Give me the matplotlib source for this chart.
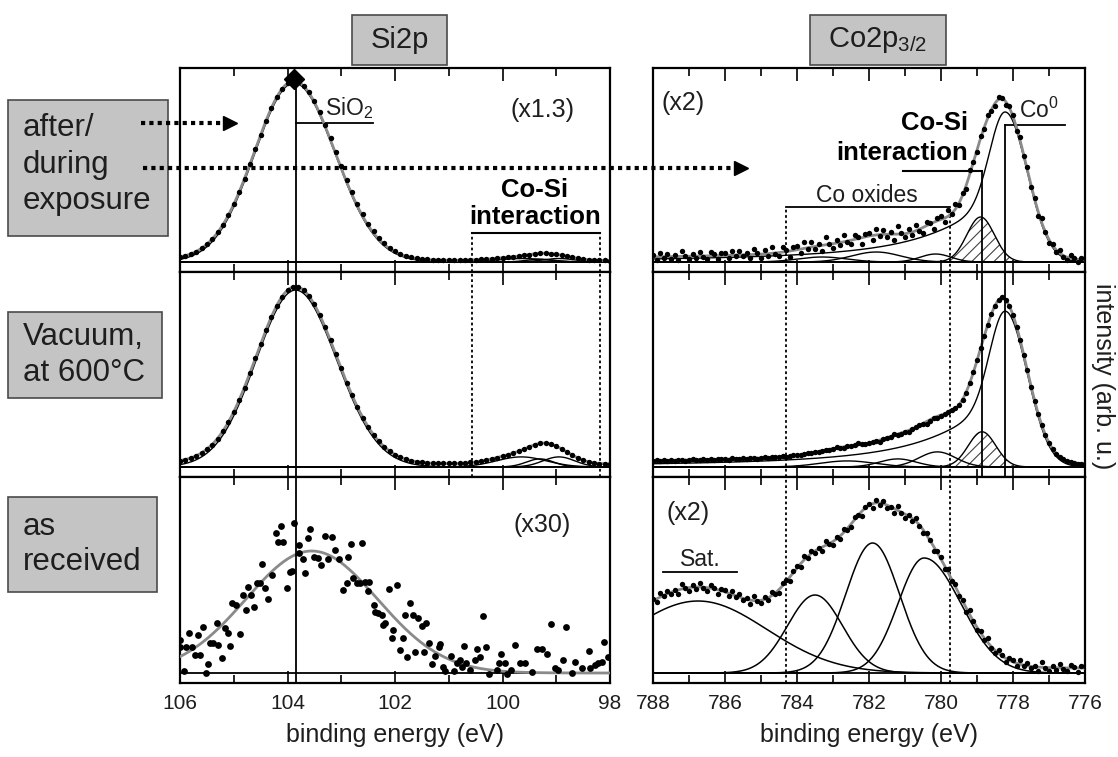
import numpy as np
import matplotlib.pyplot as plt
from matplotlib.patches import Rectangle
from matplotlib.lines import Line2D
from matplotlib.ticker import MultipleLocator, FormatStrFormatter

plt.rcParams['font.family'] = ['Liberation Sans', 'DejaVu Sans']
plt.rcParams['mathtext.default'] = 'regular'
plt.rcParams['hatch.linewidth'] = 0.8

# ---------------- measured spectra (intensity, arb. u.) ----------------
si_energy = np.round(np.arange(106.0, 97.95, -0.1), 1)
co_energy = np.round(np.arange(788.0, 775.95, -0.1), 1)

si_exposure = [5, 6, 8, 10, 14, 18, 23, 30, 37, 47,
               58, 70, 83, 98, 113, 127, 141, 154, 165, 173,
               179, 181, 180, 176, 170, 161, 150, 137, 124, 110,
               96, 82, 70, 58, 48, 38, 31, 24, 19, 14,
               11, 8, 6, 5, 4, 3, 3, 2, 2, 2,
               2, 2, 2, 2, 2, 2, 3, 3, 3, 4,
               4, 5, 5, 6, 7, 7, 8, 9, 9, 8,
               8, 7, 6, 5, 4, 3, 2, 2, 2, 2,
               1]

si_vacuum = [6, 7, 9, 11, 14, 18, 22, 28, 36, 45,
             55, 67, 79, 93, 108, 122, 136, 149, 160, 169,
             176, 179, 179, 176, 170, 162, 151, 139, 126, 112,
             98, 84, 72, 60, 49, 40, 32, 26, 20, 16,
             12, 10, 8, 6, 5, 5, 4, 4, 4, 4,
             4, 4, 4, 4, 5, 5, 6, 7, 8, 9,
             11, 12, 14, 16, 18, 20, 22, 24, 24, 23,
             21, 18, 15, 12, 9, 7, 5, 4, 3, 3,
             3]

si_received_energy = [106.0, 106.0, 105.92, 105.88, 105.83, 105.78, 105.72, 105.67, 105.63, 105.57,
                      105.52, 105.47, 105.44, 105.38, 105.32, 105.29, 105.22, 105.16, 105.11, 105.07,
                      105.03, 104.95, 104.88, 104.82, 104.78, 104.73, 104.68, 104.62, 104.57, 104.51,
                      104.47, 104.42, 104.37, 104.29, 104.22, 104.17, 104.12, 104.08, 104.01, 103.95,
                      103.92, 103.87, 103.79, 103.78, 103.72, 103.67, 103.62, 103.58, 103.50, 103.44,
                      103.38, 103.31, 103.24, 103.18, 103.12, 103.05, 102.96, 102.90, 102.87, 102.82,
                      102.78, 102.71, 102.65, 102.62, 102.56, 102.51, 102.48, 102.40, 102.37, 102.31,
                      102.25, 102.22, 102.19, 102.12, 102.06, 102.03, 101.97, 101.91, 101.86, 101.81,
                      101.78, 101.72, 101.67, 101.63, 101.57, 101.50, 101.46, 101.42, 101.36, 101.32,
                      101.26, 101.19, 101.16, 101.11, 101.07, 100.96, 100.91, 100.85, 100.79, 100.76,
                      100.72, 100.67, 100.60, 100.51, 100.47, 100.42, 100.36, 100.31, 100.25, 100.11,
                      100.06, 100.02, 99.95, 99.92, 99.85, 99.77, 99.67, 99.58, 99.46, 99.36,
                      99.27, 99.18, 99.10, 99.02, 98.96, 98.87, 98.81, 98.71, 98.65, 98.53,
                      98.40, 98.37, 98.28, 98.22, 98.15, 98.11, 98.03]
si_received_counts = [33, 26, 2, 26, 40, 26, 18, 38, 18, 46,
                      0, 9, 30, 30, 50, 28, 15, 45, 40, 27,
                      70, 68, 39, 78, 63, 86, 78, 66, 90, 90,
                      109, 85, 74, 98, 140, 131, 147, 131, 85, 101,
                      102, 150, 128, 120, 114, 100, 135, 144, 116, 115,
                      108, 137, 114, 136, 123, 114, 83, 90, 116, 129,
                      95, 90, 90, 130, 91, 82, 91, 68, 61, 60,
                      58, 48, 50, 84, 35, 43, 88, 23, 35, 58,
                      16, 70, 58, 21, 55, 47, 21, 50, 30, 9,
                      17, 26, 29, 6, 2, 17, 2, 10, 13, 6,
                      27, 10, 3, 13, 24, 16, 57, 26, -1, 3,
                      10, 19, 10, -1, 3, 28, 10, 10, 1, 24,
                      24, 19, 49, 5, 3, 13, 46, 0, 11, 5,
                      22, 5, 8, 10, 11, 31, 16]

co_exposure = [7, 2, 9, 4, 8, 3, 7, 2, 11, 6,
               3, 8, 4, 10, 5, 3, 10, 8, 3, 9,
               9, 4, 11, 6, 11, 6, 9, 4, 13, 9,
               4, 12, 6, 15, 8, 6, 15, 12, 5, 15,
               16, 9, 20, 13, 20, 13, 18, 11, 25, 18,
               14, 22, 17, 27, 20, 18, 27, 25, 18, 28,
               29, 22, 33, 26, 32, 25, 30, 22, 36, 29,
               25, 33, 27, 37, 31, 29, 40, 39, 33, 44,
               46, 40, 52, 48, 58, 57, 69, 73, 92, 100,
               110, 126, 133, 147, 151, 156, 165, 164, 157, 156,
               147, 131, 125, 106, 95, 75, 64, 46, 44, 30,
               19, 18, 10, 12, 5, 2, 7, 4, 0, 4,
               4]

co_vacuum = [6, 7, 6, 7, 6, 7, 6, 7, 7, 6,
             7, 8, 7, 7, 8, 7, 8, 7, 8, 8,
             8, 7, 9, 8, 8, 9, 8, 9, 9, 8,
             9, 10, 9, 10, 10, 10, 11, 10, 11, 12,
             12, 12, 13, 14, 14, 15, 15, 16, 17, 17,
             18, 20, 19, 19, 21, 21, 22, 24, 23, 23,
             24, 25, 26, 25, 28, 29, 30, 33, 32, 33,
             35, 35, 38, 40, 42, 43, 43, 46, 49, 49,
             51, 53, 55, 57, 59, 62, 67, 74, 84, 94,
             106, 118, 130, 141, 152, 160, 166, 169, 166, 160,
             151, 139, 126, 111, 96, 80, 66, 53, 42, 32,
             24, 18, 13, 10, 8, 6, 5, 4, 3, 3,
             3]

co_received = [74, 71, 80, 77, 82, 79, 83, 79, 89, 85,
               82, 88, 84, 90, 85, 82, 88, 85, 79, 84,
               83, 77, 82, 76, 79, 73, 75, 69, 77, 72,
               70, 76, 73, 81, 79, 80, 90, 93, 92, 102,
               107, 106, 117, 115, 122, 120, 125, 122, 132, 129,
               128, 136, 134, 144, 143, 146, 156, 158, 157, 166,
               169, 165, 173, 168, 172, 165, 166, 160, 167, 160,
               155, 158, 152, 155, 147, 140, 140, 133, 122, 122,
               116, 104, 104, 92, 89, 77, 73, 61, 63, 52,
               43, 42, 33, 35, 25, 20, 23, 18, 11, 15,
               13, 7, 13, 7, 10, 5, 7, 2, 11, 5,
               2, 7, 3, 9, 4, 2, 8, 6, 1, 7,
               7]

# ---------------- fit results ----------------
# peaks: (centre eV, height, HWHM on low-BE side, HWHM on high-BE side)
si_exposure_peaks = [(103.88, 179, 0.90, 0.86), (99.65, 3.5, 0.55, 0.55),
                     (99.30, 2.8, 0.30, 0.30), (98.95, 3.5, 0.35, 0.35)]
si_vacuum_peaks = [(103.85, 176, 0.90, 0.86), (99.65, 10, 0.55, 0.55),
                   (99.30, 8, 0.30, 0.30), (98.95, 10, 0.35, 0.35)]
si_received_peaks = [(103.55, 122, 1.44, 1.44)]

# Co0 metal: (centre, height, HWHM low side, core HWHM, tail width)
co_exposure_metal = (778.22, 150, 0.72, 0.50, 1.8)
co_exposure_cosi = (778.90, 45, 0.45, 0.45)
co_exposure_oxides = [(780.15, 8, 0.5, 0.5), (781.8, 10, 0.8, 0.8), (783.3, 5, 0.8, 0.8)]
co_vacuum_metal = (778.22, 155, 0.72, 0.50, 1.8)
co_vacuum_cosi = (778.86, 35, 0.45, 0.45)
co_vacuum_oxides = [(780.1, 15, 0.6, 0.6), (781.2, 8, 0.6, 0.6), (782.6, 6, 0.9, 0.9)]
co_received_peaks = [(786.75, 72, 2.25, 2.25), (783.5, 78, 0.9, 0.9),
                     (781.9, 130, 0.88, 0.88), (780.47, 115, 1.2, 0.85)]

# backgrounds: (low-BE level, high-BE level, step centre, step width)
bg_si_exposure = (1.5, 2.5, 103.9, 0.5)
bg_si_vacuum = (3.0, 4.0, 103.9, 0.5)
bg_si_received = (0.0, 0.0, 103.9, 0.5)
bg_co_exposure = (2.0, 2.0, 780.0, 1.0)
bg_co_vacuum = (3.0, 3.0, 780.0, 1.0)
bg_co_received = (5.0, 14.0, 781.5, 0.8)

row_labels = [['after/', 'during', 'exposure'], ['Vacuum,', 'at 600°C'], ['as', 'received']]


def peak(x, c, h, w_lo, w_hi):
    w = np.where(x < c, w_lo, w_hi)
    return h * np.exp(-np.log(2) * ((x - c) / w) ** 2)


def metal_peak(x, c, h, w_lo, w_core, w_tail):
    # asymmetric line with a slow tail towards higher binding energy
    d = x - c
    low = np.exp(-np.log(2) * (d / w_lo) ** 2)
    high = 0.62 * np.exp(-np.log(2) * (d / w_core) ** 2) + 0.38 * (1 + (d / w_tail) ** 2) ** -0.85
    return h * np.where(d < 0, low, high)


def background(x, lo, hi, x0, s):
    return lo + (hi - lo) * 0.5 * (1 + np.tanh((x - x0) / s))


W, H = 1118.0, 757.0
fig = plt.figure(figsize=(11.18, 7.57), dpi=100)


def px_axes(x0, y0, x1, y1):
    return fig.add_axes([x0 / W, 1 - y1 / H, (x1 - x0) / W, (y1 - y0) / H])


rows = [(68, 272), (272, 477), (477, 683)]
ax_si = [px_axes(180, r0, 610, r1) for r0, r1 in rows]
ax_co = [px_axes(653, r0, 1085, r1) for r0, r1 in rows]

GREY = '#8a8a8a'
TXT = '#1e1e1e'


def style(ax, xlim, ylim, labels):
    ax.set_xlim(*xlim)
    ax.set_ylim(*ylim)
    ax.xaxis.set_major_locator(MultipleLocator(2))
    ax.xaxis.set_minor_locator(MultipleLocator(1))
    ax.xaxis.set_major_formatter(FormatStrFormatter('%d'))
    ax.set_yticks([])
    ax.tick_params(which='both', direction='in', top=True, bottom=True, left=False, right=False,
                   labelbottom=labels, width=1.2, labelsize=15, labelcolor=TXT, pad=8)
    ax.tick_params(which='major', length=9)
    ax.tick_params(which='minor', length=6)
    for sp in ax.spines.values():
        sp.set_linewidth(1.6)
    ax.axhline(0, color='k', lw=1.3, zorder=2)


for i, ax in enumerate(ax_si):
    style(ax, (106, 98), (-10, 194 if i < 2 else 196), i == 2)
for i, ax in enumerate(ax_co):
    style(ax, (788, 776), (-10, 194 if i < 2 else 196), i == 2)

xs = np.linspace(106, 98, 800)
xc = np.linspace(788, 776, 1200)

# ---- Si 2p ----
for ax, peaks, bg, dots in [(ax_si[0], si_exposure_peaks, bg_si_exposure, si_exposure),
                            (ax_si[1], si_vacuum_peaks, bg_si_vacuum, si_vacuum)]:
    comps = [peak(xs, *p) for p in peaks]
    for cp in comps:
        ax.plot(xs, cp, color='k', lw=1.0, zorder=3)
    ax.plot(xs, sum(comps) + background(xs, *bg), color=GREY, lw=2.0, zorder=4)
    ax.scatter(si_energy, dots, s=15, c='k', linewidths=0, zorder=5)

env = sum(peak(xs, *p) for p in si_received_peaks) + background(xs, *bg_si_received)
ax_si[2].plot(xs, env, color=GREY, lw=2.0, zorder=4)
ax_si[2].scatter(si_received_energy, si_received_counts, s=24, c='k', linewidths=0, zorder=5)

# ---- Co 2p3/2 ----
for ax, metal, cosi, oxides, bg, dots in [
        (ax_co[0], co_exposure_metal, co_exposure_cosi, co_exposure_oxides, bg_co_exposure, co_exposure),
        (ax_co[1], co_vacuum_metal, co_vacuum_cosi, co_vacuum_oxides, bg_co_vacuum, co_vacuum)]:
    m = metal_peak(xc, *metal)
    cs = peak(xc, *cosi)
    ox = [peak(xc, *p) for p in oxides]
    ax.fill_between(xc, 0, cs, facecolor='none', edgecolor='#444444', hatch='///', linewidth=0, zorder=2)
    for cp in [m, cs] + ox:
        ax.plot(xc, cp, color='k', lw=1.0, zorder=3)
    ax.plot(xc, m + cs + sum(ox) + background(xc, *bg), color=GREY, lw=2.0, zorder=4)
    ax.scatter(co_energy, dots, s=15, c='k', linewidths=0, zorder=5)

comps = [peak(xc, *p) for p in co_received_peaks]
for cp in comps:
    ax_co[2].plot(xc, cp, color='k', lw=1.1, zorder=3)
ax_co[2].plot(xc, sum(comps) + background(xc, *bg_co_received), color=GREY, lw=2.0, zorder=4)
ax_co[2].scatter(co_energy, co_received, s=15, c='k', linewidths=0, zorder=5)

# ---- peak markers and annotations ----
DOT = (0, (1.5, 1.5))
si_line = 103.84
ax_si[0].plot([si_line, si_line], [-10, 183], color='k', lw=1.3, zorder=6)
ax_si[0].plot(103.87, 183, marker='D', ms=10, color='k', zorder=7, clip_on=False)
ax_si[1].axvline(si_line, color='k', lw=1.3, zorder=6)
ax_si[2].axvline(si_line, color='k', lw=1.3, zorder=6)
ax_si[0].plot([si_line, 102.41], [139, 139], color='k', lw=1.3)
ax_si[0].text(103.30, 154, r'$\mathregular{SiO_2}$', fontsize=16.5, color=TXT, ha='left', va='center')
ax_si[0].text(99.25, 152, '(x1.3)', fontsize=18, color=TXT, ha='center', va='center')
ax_si[0].text(99.40, 72, 'Co-Si', fontsize=18.5, fontweight='bold', color='k', ha='center', va='center')
ax_si[0].text(99.40, 45, 'interaction', fontsize=18.5, fontweight='bold', color='k', ha='center', va='center')
ax_si[0].plot([100.57, 98.19], [29, 29], color='k', lw=1.5)
for xv in (100.57, 98.19):
    ax_si[0].plot([xv, xv], [-10, 29], color='k', lw=1.3, ls=DOT)
    ax_si[1].axvline(xv, color='k', lw=1.3, ls=DOT)
ax_si[2].text(99.27, 148, '(x30)', fontsize=18, color=TXT, ha='center', va='center')

ax_co[0].text(787.17, 159, '(x2)', fontsize=18, color=TXT, ha='center', va='center')
ax_co[0].text(779.25, 139, 'Co-Si', fontsize=18.5, fontweight='bold', color='k', ha='right', va='center')
ax_co[0].text(779.25, 109, 'interaction', fontsize=18.5, fontweight='bold', color='k', ha='right', va='center')
ax_co[0].plot([781.06, 778.86], [91, 91], color='k', lw=1.5)
ax_co[0].plot([778.86, 778.86], [-10, 91], color='k', lw=1.3, zorder=6)
ax_co[0].text(777.28, 152, r'$\mathregular{Co^0}$', fontsize=16.5, color=TXT, ha='center', va='center')
ax_co[0].plot([778.22, 776.56], [137, 137], color='k', lw=1.3)
ax_co[0].plot([778.22, 778.22], [-10, 137], color='k', lw=1.3, zorder=6)
ax_co[0].text(782.06, 67, 'Co oxides', fontsize=16.5, color=TXT, ha='center', va='center')
ax_co[0].plot([784.3, 779.75], [55, 55], color='k', lw=1.3)
ax_co[1].axvline(778.86, color='k', lw=1.3, zorder=6)
ax_co[1].axvline(778.22, color='k', lw=1.3, zorder=6)
for xv in (784.3, 779.75):
    ax_co[0].plot([xv, xv], [-10, 55], color='k', lw=1.3, ls=DOT)
    ax_co[1].axvline(xv, color='k', lw=1.3, ls=DOT)
    ax_co[2].axvline(xv, color='k', lw=1.3, ls=DOT)
ax_co[2].text(787.03, 160, '(x2)', fontsize=18, color=TXT, ha='center', va='center')
ax_co[2].text(786.69, 113, 'Sat.', fontsize=16.5, color=TXT, ha='center', va='center')
ax_co[2].plot([787.72, 785.67], [101, 101], color='k', lw=1.3)


def fx(px):
    return px / W


def fy(py):
    return 1 - py / H


# ---- condition labels on the left ----
boxes = [(8, 100, 168, 236, [128, 165, 201]),
         (8, 312, 162, 398, [337, 373]),
         (8, 497, 157, 592, [527, 562])]
for (x0, y0, x1, y1, ys), lines in zip(boxes, row_labels):
    fig.add_artist(Rectangle((fx(x0), fy(y1)), (x1 - x0) / W, (y1 - y0) / H, transform=fig.transFigure,
                             facecolor='#c4c4c4', edgecolor='#4a4a4a', lw=1.2))
    for t, yy in zip(lines, ys):
        fig.text(fx(23), fy(yy), t, fontsize=22.5, color=TXT, ha='left', va='center')

# ---- column headers ----
for (x0, x1), title in [((352, 447), 'Si2p'), ((810, 946), r'$\mathregular{Co2p_{3/2}}$')]:
    fig.add_artist(Rectangle((fx(x0), fy(65)), (x1 - x0) / W, 50 / H, transform=fig.transFigure,
                             facecolor='#c4c4c4', edgecolor='#4a4a4a', lw=1.2))
    fig.text(fx((x0 + x1) / 2), fy(40), title, fontsize=21, color=TXT, ha='center', va='center')

# ---- dotted arrows ----
for x0, x1, yy in [(141, 228, 123), (143, 739, 168)]:
    fig.add_artist(Line2D([fx(x0), fx(x1)], [fy(yy), fy(yy)], transform=fig.transFigure,
                          color='k', lw=3, ls=(0, (1, 1))))
    fig.add_artist(Line2D([fx(x1 + 2)], [fy(yy)], transform=fig.transFigure,
                          marker='>', ms=10, color='k', lw=0))

fig.text(fx(395), fy(735), 'binding energy (eV)', fontsize=18, color=TXT, ha='center', va='center')
fig.text(fx(869), fy(735), 'binding energy (eV)', fontsize=18, color=TXT, ha='center', va='center')
fig.text(fx(1103), fy(376), 'intensity (arb. u.)', fontsize=18, color=TXT, rotation=-90,
         ha='center', va='center')

fig.savefig('out.png', dpi=100, facecolor='white')
